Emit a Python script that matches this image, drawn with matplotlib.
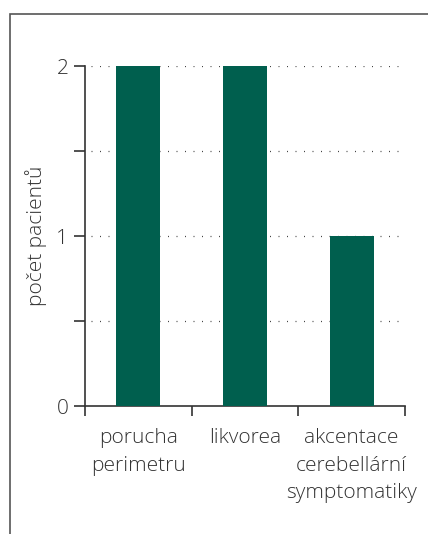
import matplotlib
matplotlib.use('Agg')
import matplotlib.pyplot as plt
from matplotlib.patches import Rectangle

plt.rcParams.update({
    'font.family': ['Open Sans', 'DejaVu Sans'],
    'font.weight': 'light',
    'axes.labelweight': 'light',
    'font.size': 15,
    'text.color': '#333333',
    'axes.labelcolor': '#333333',
    'xtick.color': '#333333',
    'ytick.color': '#333333',
})

categories = ['porucha\nperimetru', 'likvorea', 'akcentace\ncerebellární\nsymptomatiky']
patients = [2, 2, 1]
y_major = [0, 1, 2]
y_minor = [0.5, 1.5]

bar_color = '#005F4E'

fig = plt.figure(figsize=(4.28, 5.34), dpi=100)
ax = fig.add_axes([0.1986, 0.2397, 0.7477, 0.6367])

# outer frame (only top and left edges fall inside the image)
fig.add_artist(Rectangle((9.5 / 428, -0.1), 1.2, 1 - 13.5 / 534 + 0.1,
                         transform=fig.transFigure, fill=False,
                         edgecolor='#555555', linewidth=1.2))

x = list(range(len(categories)))
ax.bar(x, patients, width=0.41, color=bar_color, zorder=3)

for y in y_major[1:] + y_minor:
    ax.axhline(y, color='#444444', linewidth=0.9, linestyle=(0, (0.8, 6)),
               zorder=2, xmin=0.02, xmax=0.985)

ax.set_xlim(-0.5, 2.5)
ax.set_ylim(0, 2)
ax.set_yticks(y_major)
ax.set_yticks(y_minor, minor=True)
ax.set_xticks([-0.5, 0.5, 1.5, 2.5])
ax.set_xticklabels([])
ax.set_xticks(x, minor=True)
ax.set_xticklabels(categories, minor=True, linespacing=1.5)

ax.tick_params(axis='y', which='both', direction='out', length=8, width=1.2,
               pad=4, labelsize=15)
ax.tick_params(axis='x', which='major', direction='out', length=7, width=1.2)
ax.tick_params(axis='x', which='minor', length=0, pad=16, labelsize=15)

for s in ['top', 'right']:
    ax.spines[s].set_visible(False)
for s in ['left', 'bottom']:
    ax.spines[s].set_color('#333333')
    ax.spines[s].set_linewidth(1.2)

ax.set_ylabel('počet pacientů', fontsize=15, fontweight='light', labelpad=7)

fig.savefig('out.png', dpi=100)
